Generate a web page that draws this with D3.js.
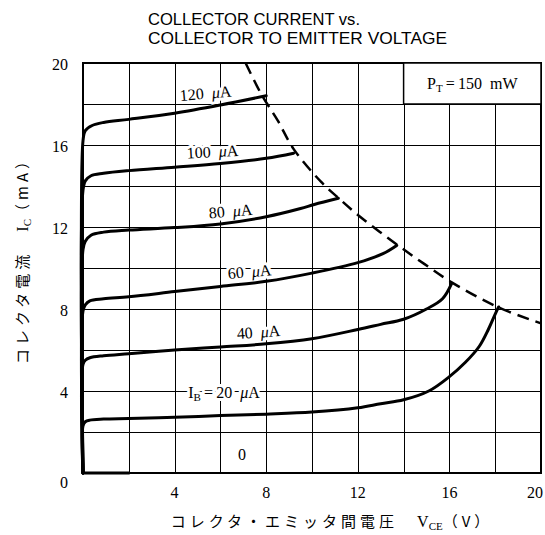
<!DOCTYPE html>
<html lang="ja">
<head>
<meta charset="UTF-8">
<title>Collector current vs. collector to emitter voltage</title>
<script src="https://cdn.jsdelivr.net/npm/d3@7"></script>
<style>
  body { margin: 0; background: #fff; }
  svg { display: block; }
  .grid line { stroke: #000; stroke-width: 1px; shape-rendering: crispEdges; }
  .grid path { display: none; }
  .frame { fill: none; stroke: #000; stroke-width: 2px; }
  .curve { fill: none; stroke: #000; stroke-width: 3px; stroke-linejoin: round; stroke-linecap: round; }
  .limit { fill: none; stroke: #000; stroke-width: 2.5px; stroke-dasharray: 12 7; }
  .num { font-family: "Liberation Serif", "DejaVu Serif", serif; font-size: 16px; }
  .curve-label { font-family: "Liberation Serif", serif; font-size: 16px; }
  .halo { fill: #fff; stroke: #fff; stroke-width: 6px; stroke-linejoin: round; }
  .title { font-family: "Liberation Sans", Arial, sans-serif; font-size: 17px; }
  .jp { font-family: "Noto Sans CJK JP", sans-serif; font-size: 15px; letter-spacing: 4px; }
</style>
</head>
<body>
<div id="chart"></div>
<script>
// Ic (mA) against Vce (V), one series per base current
const gridSteps = [0, 2, 4, 6, 8, 10, 12, 14, 16, 18, 20];
const xTicks = [4, 8, 12, 16, 20];
const yTicks = [4, 8, 12, 16, 20];

const ib120 = [[0,0],[0,16.2],[0.1,16.7],[0.4,16.95],[0.9,17.1],[2,17.25],[4,17.55],[6,17.95],[8,18.4]];
const ib100 = [[0,0],[0,13.8],[0.1,14.25],[0.35,14.5],[0.9,14.62],[2,14.75],[4,14.92],[6,15.1],[8,15.35],[9.2,15.6]];
const ib80  = [[0,0],[0,10.9],[0.1,11.3],[0.35,11.6],[0.9,11.75],[2,11.85],[4,11.97],[6,12.15],[8,12.5],[9.5,12.9],[10.1,13.1],[11.15,13.4]];
const ib60  = [[0,0],[0,7.9],[0.1,8.2],[0.3,8.4],[0.9,8.5],[2,8.6],[4,8.85],[6,9.1],[8,9.35],[10,9.75],[12,10.26],[13.1,10.7],[13.7,11.1]];
const ib40  = [[0,0],[0,5.3],[0.1,5.5],[0.3,5.62],[0.9,5.72],[2,5.82],[4,6.0],[6,6.15],[8,6.3],[10,6.55],[12,7.0],[13,7.25],[14,7.5],[15,8.0],[15.7,8.5],[16.1,9.25]];
const ib20  = [[0,0],[0,2.3],[0.1,2.5],[0.3,2.58],[0.9,2.63],[2,2.66],[4,2.72],[6,2.8],[8,2.87],[10,2.97],[12,3.18],[13,3.38],[14,3.57],[15.1,4.0],[16,4.7],[16.7,5.4],[17.3,6.17],[17.7,7.0],[18.0,7.75],[18.15,8.1]];
const ib0   = [[0,0],[2,0]];

// Pt = 150 mW limit
const ptLimit = [[7.1,20],[7.8,18.45],[8.5,17.2],[9.2,15.8],[10.4,14.2],[11.17,13.4],[12.1,12.5],[13.7,11.15],[14.9,10.2],[16.1,9.3],[18.1,8.1],[20,7.3]];

const curveNames = ["120", "100", "80", "60", "40", "IB20", "0"];
// label anchor [V, mA, rotation]
const labelAt = [[5.37,18.5,-5],[5.67,15.65,-3],[6.46,12.75,-5],[7.29,9.8,-5],[7.68,6.85,-4],[6.16,3.9,0],[6.94,0.88,0]];

const W = 545, H = 535;
const svg = d3.select("#chart").append("svg")
  .attr("width", W).attr("height", H);

const x = d3.scaleLinear().domain([0, 20]).range([83, 541]);
const y = d3.scaleLinear().domain([0, 20]).range([473, 63]);

// grid
svg.append("g")
  .attr("class", "grid")
  .attr("transform", `translate(0,${y(0)})`)
  .call(d3.axisBottom(x).tickValues(gridSteps).tickSize(-(y(0) - y(20))).tickFormat(""));
svg.append("g")
  .attr("class", "grid")
  .attr("transform", `translate(${x(0)},0)`)
  .call(d3.axisLeft(y).tickValues(gridSteps).tickSize(-(x(20) - x(0))).tickFormat(""));

svg.append("rect").attr("class", "frame")
  .attr("x", x(0)).attr("y", y(20))
  .attr("width", x(20) - x(0)).attr("height", y(0) - y(20));

// Pt box in the upper right cell row
svg.append("rect")
  .attr("x", x(14)).attr("y", y(20))
  .attr("width", x(20) - x(14)).attr("height", y(18) - y(20))
  .attr("fill", "#fff").attr("stroke", "#000").attr("stroke-width", 1.5);
const pt = svg.append("text").attr("class", "num")
  .attr("x", (x(14) + x(20)) / 2).attr("y", (y(18) + y(20)) / 2 + 5)
  .attr("text-anchor", "middle").style("font-size", "16px");
pt.append("tspan").text("P");
pt.append("tspan").attr("font-size", "11px").attr("dy", 3).text("T");
pt.append("tspan").attr("dy", -3).text("\u2009=\u2009150\u00a0\u00a0mW");

// curve labels: white halo under the curves, black text on top
function fillLabel(t, d) {
  if (d === "0") { t.text("0"); return; }
  if (d === "IB20") {
    t.append("tspan").text("I");
    t.append("tspan").attr("font-size", "11px").attr("dy", 3).text("B");
    t.append("tspan").attr("dy", -3).text("\u2009=\u200920\u00a0\u00a0");
  } else {
    t.append("tspan").text(d + "\u00a0\u00a0");
  }
  t.append("tspan").attr("font-style", "italic").text("\u03bc");
  t.append("tspan").text("A");
}
const labelPos = (d, i) => `translate(${x(labelAt[i][0])},${y(labelAt[i][1]) + 5}) rotate(${labelAt[i][2]})`;
function drawLabels(cls) {
  svg.selectAll(null).data(curveNames).enter()
    .append("text").attr("class", cls)
    .attr("text-anchor", "middle")
    .attr("transform", labelPos)
    .each(function(d) { fillLabel(d3.select(this), d); });
}
drawLabels("curve-label halo");

// limit curve
const line = d3.line().x(d => x(d[0])).y(d => y(d[1])).curve(d3.curveCatmullRom.alpha(0.5));
svg.append("path").datum(ptLimit).attr("class", "limit").attr("d", line);

// characteristic curves
const series = [ib120, ib100, ib80, ib60, ib40, ib20, ib0];
svg.selectAll("path.curve").data(series).enter()
  .append("path").attr("class", "curve").attr("d", line);

drawLabels("curve-label");

// tick labels
svg.selectAll("text.xt").data(xTicks).enter()
  .append("text").attr("class", "num xt")
  .attr("x", d => d === 20 ? x(d) - 6 : x(d)).attr("y", y(0) + 25)
  .attr("text-anchor", "middle").text(d => d);
svg.selectAll("text.yt").data(yTicks).enter()
  .append("text").attr("class", "num yt")
  .attr("x", x(0) - 15).attr("y", d => y(d) + 7)
  .attr("text-anchor", "end").text(d => d);
svg.append("text").attr("class", "num")
  .attr("x", x(0) - 15).attr("y", y(0) + 15)
  .attr("text-anchor", "end").text("0");

// titles
svg.append("text").attr("class", "title").attr("x", 148).attr("y", 25)
  .attr("textLength", 212).attr("lengthAdjust", "spacingAndGlyphs")
  .text("COLLECTOR CURRENT vs.");
svg.append("text").attr("class", "title").attr("x", 148).attr("y", 44)
  .attr("textLength", 299).attr("lengthAdjust", "spacingAndGlyphs")
  .text("COLLECTOR TO EMITTER VOLTAGE");

const xt = svg.append("text").attr("class", "jp")
  .attr("x", 332).attr("y", 527).attr("text-anchor", "middle");
xt.append("tspan").text("コレクタ・エミッタ間電圧\u3000");
xt.append("tspan").attr("class", "num").style("letter-spacing", "0px").style("font-size", "16px").text("V");
xt.append("tspan").attr("class", "num").style("letter-spacing", "0px").style("font-size", "11px").attr("dy", 3).text("CE");
xt.append("tspan").attr("dy", -3).text("（V）");

const yt = svg.append("text").attr("class", "jp")
  .attr("transform", `translate(28,257) rotate(-90)`).attr("text-anchor", "middle");
yt.append("tspan").text("コレクタ電流\u3000");
yt.append("tspan").attr("class", "num").style("letter-spacing", "0px").style("font-size", "16px").text("I");
yt.append("tspan").attr("class", "num").style("letter-spacing", "0px").style("font-size", "11px").attr("dy", 3).text("C");
yt.append("tspan").attr("dy", -3).text("（mA）");
</script>
</body>
</html>
